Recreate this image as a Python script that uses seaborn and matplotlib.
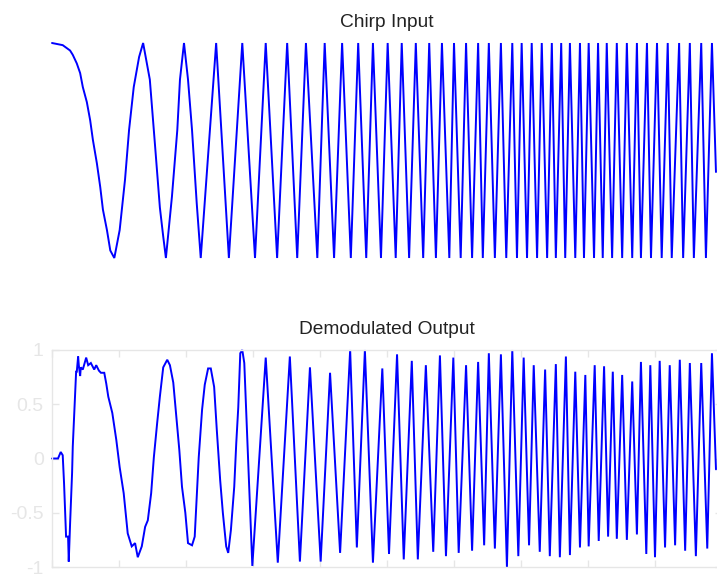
import matplotlib
matplotlib.use("Agg")
import matplotlib.pyplot as plt
import seaborn as sns
import pandas as pd

# ---------------- data ----------------
# Chirp input: time (s) and amplitude at read-off points / extrema
chirp_t = [0.00, 0.16, 0.27, 0.31, 0.37, 0.42, 0.46, 0.52, 0.57, 0.61, 0.67,
           0.72, 0.76, 0.82, 0.87, 0.93, 1.01, 1.09, 1.15, 1.22, 1.30, 1.36,
           1.46, 1.54, 1.61, 1.66, 1.70, 1.79, 1.87, 1.91, 1.97, 2.03, 2.09,
           2.16, 2.22, 2.45, 2.64, 2.84, 3.03, 3.19, 3.36, 3.51,
           3.66, 3.79, 3.96, 4.07, 4.21, 4.33, 4.46, 4.57, 4.69, 4.79, 4.91,
           5.01, 5.13, 5.22, 5.33, 5.43, 5.54, 5.63, 5.73, 5.82, 5.93, 6.00,
           6.10, 6.18, 6.27, 6.36, 6.43, 6.52, 6.61, 6.70, 6.78, 6.87, 6.94,
           7.01, 7.09, 7.16, 7.24, 7.31, 7.39, 7.46, 7.52, 7.60, 7.66, 7.73,
           7.81, 7.88, 7.94, 8.01, 8.09, 8.15, 8.22, 8.28, 8.36, 8.43, 8.51,
           8.58, 8.66, 8.73, 8.79, 8.88, 8.94, 9.03, 9.10, 9.19, 9.25, 9.36,
           9.42, 9.52, 9.58, 9.69, 9.76, 9.85, 9.91]
chirp_v = [1.00, 0.98, 0.93, 0.89, 0.81, 0.72, 0.59, 0.45, 0.28, 0.10, -0.12,
           -0.34, -0.55, -0.74, -0.93, -1.00, -0.74, -0.27, 0.19, 0.59, 0.87, 1.00,
           0.66, 0.03, -0.53, -0.80, -1.00, -0.43, 0.19, 0.66, 1.00, 0.66, 0.19,
           -0.49, -1.00, 1.00, -1.00, 1.00, -1.00, 1.00, -1.00, 1.00,
           -1.00, 1.00, -1.00, 1.00, -1.00, 1.00, -1.00, 1.00, -1.00, 1.00, -1.00,
           1.00, -1.00, 1.00, -1.00, 1.00, -1.00, 1.00, -1.00, 1.00, -1.00, 1.00,
           -1.00, 1.00, -1.00, 1.00, -1.00, 1.00, -1.00, 1.00, -1.00, 1.00, -1.00,
           1.00, -1.00, 1.00, -1.00, 1.00, -1.00, 1.00, -1.00, 1.00, -1.00, 1.00,
           -1.00, 1.00, -1.00, 1.00, -1.00, 1.00, -1.00, 1.00, -1.00, 1.00, -1.00,
           1.00, -1.00, 1.00, -1.00, 1.00, -1.00, 1.00, -1.00, 1.00, -1.00, 1.00,
           -1.00, 1.00, -1.00, 1.00, -1.00, 1.00, -0.20]

# Demodulated output: time (s) and amplitude
demod_t = [0.00, 0.09, 0.13, 0.16, 0.18, 0.21, 0.24, 0.25, 0.27, 0.30, 0.31,
           0.33, 0.36, 0.37, 0.39, 0.40, 0.42, 0.43, 0.46, 0.51, 0.54, 0.58,
           0.63, 0.66, 0.70, 0.73, 0.78, 0.81, 0.84, 0.90, 0.96, 1.01, 1.07,
           1.13, 1.19, 1.24, 1.28, 1.34, 1.39, 1.43, 1.48, 1.52, 1.57, 1.61,
           1.66, 1.72, 1.76, 1.81, 1.85, 1.90, 1.94, 1.99, 2.03, 2.09, 2.13,
           2.16, 2.19, 2.24, 2.28, 2.33, 2.37, 2.42, 2.46, 2.51, 2.55, 2.60,
           2.63, 2.67, 2.72, 2.75, 2.78, 2.81, 2.84, 2.87, 2.99, 3.19, 3.37,
           3.55, 3.70, 3.85, 4.01, 4.15, 4.30, 4.45, 4.55, 4.67, 4.79, 4.93,
           5.03, 5.15, 5.25, 5.37, 5.46, 5.58, 5.69, 5.79, 5.88, 5.99, 6.07,
           6.18, 6.27, 6.36, 6.45, 6.52, 6.61, 6.70, 6.79, 6.87, 6.96, 7.04,
           7.12, 7.19, 7.28, 7.36, 7.43, 7.52, 7.58, 7.67, 7.73, 7.81, 7.88,
           7.96, 8.01, 8.10, 8.16, 8.24, 8.30, 8.37, 8.43, 8.51, 8.58, 8.66,
           8.73, 8.79, 8.87, 8.93, 9.00, 9.07, 9.15, 9.22, 9.30, 9.37, 9.45,
           9.52, 9.61, 9.69, 9.78, 9.85, 9.91]
demod_v = [0.00, 0.00, 0.06, 0.03, -0.23, -0.72, -0.72, -0.95, -0.60, -0.13, 0.11,
           0.38, 0.80, 0.80, 0.94, 0.86, 0.76, 0.84, 0.82, 0.93, 0.86, 0.88,
           0.82, 0.86, 0.81, 0.79, 0.79, 0.69, 0.57, 0.42, 0.17, -0.08, -0.32,
           -0.69, -0.81, -0.78, -0.91, -0.81, -0.63, -0.57, -0.32, 0.01, 0.33, 0.57,
           0.84, 0.91, 0.86, 0.70, 0.42, 0.08, -0.26, -0.50, -0.78, -0.80, -0.72,
           -0.36, 0.01, 0.45, 0.68, 0.83, 0.83, 0.66, 0.26, -0.20, -0.50, -0.81,
           -0.87, -0.66, -0.26, 0.14, 0.47, 0.97, 1.00, 0.88, -0.99, 0.93, -0.96,
           0.94, -0.95, 0.84, -0.95, 0.79, -0.87, 1.00, -0.82, 1.00, -0.96, 0.83,
           -0.88, 0.96, -0.93, 0.90, -0.93, 0.86, -0.86, 0.95, -0.90, 0.93, -0.87,
           0.86, -0.85, 0.89, -0.80, 0.97, -0.83, 0.96, -1.00, 1.00, -0.90, 0.93,
           -0.80, 0.86, -0.86, 0.82, -0.90, 0.87, -0.91, 0.94, -0.89, 0.80, -0.82,
           0.77, -0.81, 0.86, -0.76, 0.85, -0.72, 0.80, -0.74, 0.77, -0.75, 0.71,
           -0.70, 0.89, -0.88, 0.86, -0.91, 0.90, -0.82, 0.86, -0.80, 0.91, -0.85,
           0.88, -0.90, 0.88, -0.83, 0.97, -0.10]

titles = ["Chirp Input", "Demodulated Output"]
y_ticks = [-1, -0.5, 0, 0.5, 1]
y_tick_labels = ["-1", "-0.5", "0", "0.5", "1"]
x_ticks = [0, 1, 2, 3, 4, 5, 6, 7, 8, 9, 10]

# ---------------- styling ----------------
sns.set_theme(style="white")
plt.rcParams["font.family"] = ["Liberation Sans", "DejaVu Sans"]

LINE = "#0000ff"
FAINT = "#e6e6e6"
TITLE = "#222222"

fig = plt.figure(figsize=(7.17, 5.74), dpi=100)
fig.patch.set_facecolor("white")

# axes boxes (figure fractions); right edge runs slightly past the canvas
ax_top = fig.add_axes([52 / 717, 1 - 258 / 574, 670 / 717, 215 / 574])
ax_bot = fig.add_axes([52 / 717, 1 - 567 / 574, 670 / 717, 217 / 574])

df_chirp = pd.DataFrame({"t": chirp_t, "v": chirp_v})
df_demod = pd.DataFrame({"t": demod_t, "v": demod_v})

sns.lineplot(data=df_chirp, x="t", y="v", ax=ax_top, color=LINE,
             linewidth=1.4, estimator=None, sort=False)
sns.lineplot(data=df_demod, x="t", y="v", ax=ax_bot, color=LINE,
             linewidth=1.4, estimator=None, sort=False)

for ax in (ax_top, ax_bot):
    ax.set_xlim(0, 10)
    ax.set_ylim(-1, 1)
    ax.set_xlabel("")
    ax.set_ylabel("")
    for ln in ax.get_lines():
        ln.set_clip_on(False)
        ln.set_solid_joinstyle("miter")

# top panel: no axes drawn
ax_top.axis("off")
ax_top.set_title(titles[0], fontsize=13.8, color=TITLE, pad=11.5)

# bottom panel: faint box, ticks and labels
ax_bot.set_title(titles[1], fontsize=13.8, color=TITLE, pad=11.5)
for sp in ax_bot.spines.values():
    sp.set_visible(True)
    sp.set_color(FAINT)
    sp.set_linewidth(1.0)
ax_bot.set_xticks(x_ticks)
ax_bot.set_yticks(y_ticks)
ax_bot.set_yticklabels(y_tick_labels)
ax_bot.tick_params(axis="both", direction="in", length=5, width=1.0,
                   color=FAINT, labelcolor=FAINT, labelsize=14,
                   top=True, right=True, bottom=True, left=True,
                   labelbottom=False, pad=6)
ax_bot.grid(False)

fig.savefig("out.png", dpi=100, facecolor="white")
